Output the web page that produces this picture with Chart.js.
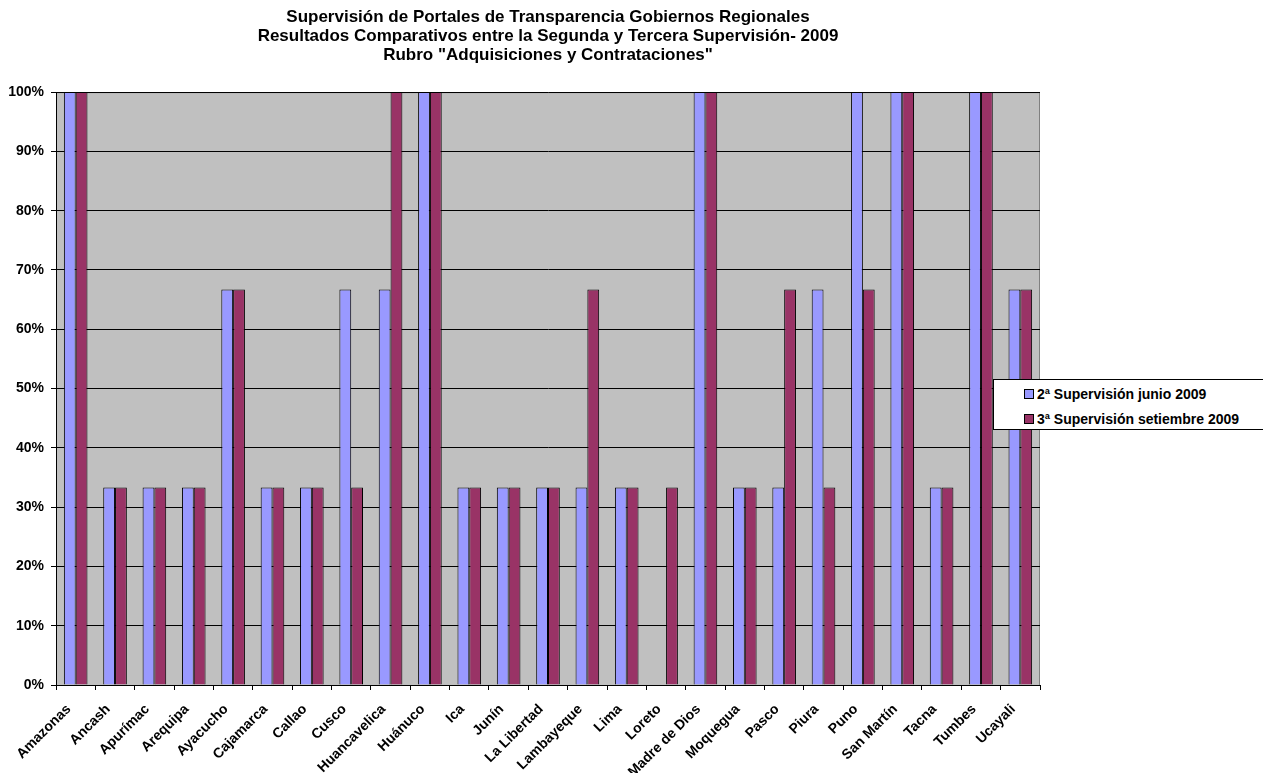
<!DOCTYPE html>
<html>
<head>
<meta charset="utf-8">
<script src="https://cdn.jsdelivr.net/npm/chart.js@4/dist/chart.umd.min.js"></script>
<style>
  html, body { margin: 0; padding: 0; background: #fff; overflow: hidden; }
  #wrap { position: relative; width: 1263px; height: 773px; }
  #legend {
    position: absolute; left: 993px; top: 379px; width: 280px; height: 51px;
    background: #fff; border: 1px solid #000; box-sizing: border-box;
    font: bold 14px "Liberation Sans", Arial, sans-serif; color: #000;
  }
  #legend .item { position: absolute; left: 30px; height: 16px; line-height: 16px; white-space: nowrap; }
  #legend .sw { display: inline-block; width: 8px; height: 8px; border: 1px solid #000; margin-right: 3px; vertical-align: 0px; }
</style>
</head>
<body>
<div id="wrap">
  <canvas id="chart" width="1263" height="773"></canvas>
  <div id="legend"></div>
</div>
<script>
// ====== DATA ======
const regions = ['Amazonas','Ancash','Apurímac','Arequipa','Ayacucho','Cajamarca','Callao','Cusco','Huancavelica','Huánuco','Ica','Junín','La Libertad','Lambayeque','Lima','Loreto','Madre de Dios','Moquegua','Pasco','Piura','Puno','San Martín','Tacna','Tumbes','Ucayali'];
const junio2009 = [100,33.3,33.3,33.3,66.7,33.3,33.3,66.7,66.7,100,33.3,33.3,33.3,33.3,33.3,0,100,33.3,33.3,66.7,100,100,33.3,100,66.7];
const setiembre2009 = [100,33.3,33.3,33.3,66.7,33.3,33.3,33.3,100,100,33.3,33.3,33.3,66.7,33.3,33.3,100,33.3,66.7,33.3,66.7,100,33.3,100,66.7];
const seriesNames = ['2ª Supervisión junio 2009','3ª Supervisión setiembre 2009'];
const seriesColors = ['#9999FF','#993366'];
const titleLines = [
  'Supervisión de Portales de Transparencia Gobiernos Regionales',
  'Resultados Comparativos entre la Segunda y Tercera Supervisión- 2009',
  'Rubro "Adquisiciones y Contrataciones"'
];

const FONT = '"Liberation Sans", Arial, sans-serif';

// grey plot background + frame
const plotBg = {
  id: 'plotBg',
  beforeDraw(chart) {
    const { ctx, chartArea: a } = chart;
    ctx.save();
    ctx.fillStyle = '#C0C0C0';
    ctx.fillRect(a.left, a.top, a.right - a.left, a.bottom - a.top);
    ctx.strokeStyle = '#808080';
    ctx.lineWidth = 1;
    ctx.strokeRect(a.left + 0.5, a.top + 0.5, a.right - a.left - 1, a.bottom - a.top);
    ctx.restore();
  }
};

new Chart(document.getElementById('chart'), {
  type: 'bar',
  data: {
    labels: regions,
    datasets: [
      { label: seriesNames[0], data: junio2009, backgroundColor: seriesColors[0], borderColor: '#000', borderWidth: 1 },
      { label: seriesNames[1], data: setiembre2009, backgroundColor: seriesColors[1], borderColor: '#000', borderWidth: 1 }
    ]
  },
  options: {
    responsive: false, animation: false,
    layout: { padding: { left: 0, right: 223, top: 0, bottom: 0 } },
    datasets: { bar: { barPercentage: 1.0, categoryPercentage: 0.6 } },
    plugins: {
      legend: { display: false },
      tooltip: { enabled: false },
      title: {
        display: true, text: titleLines, color: '#000', fullSize: false,
        font: { family: FONT, size: 17, weight: 'bold', lineHeight: 1.12 },
        padding: { top: 8, bottom: 27 }
      }
    },
    scales: {
      x: {
        grid: { offset: true, drawOnChartArea: false, color: '#000', tickLength: 5 },
        border: { color: '#000' },
        ticks: { color: '#000', font: { family: FONT, size: 14, weight: 'bold' }, maxRotation: 45, minRotation: 45, autoSkip: false, padding: 11, labelOffset: -7 },
        afterFit: s => { s.height = 88; }
      },
      y: {
        min: 0, max: 100,
        grid: { color: '#000', tickLength: 5 },
        border: { color: '#000' },
        ticks: { stepSize: 10, color: '#000', font: { family: FONT, size: 14, weight: 'bold' }, padding: 7, callback: v => v + '%' },
        afterFit: s => { s.width = 56; }
      }
    }
  },
  plugins: [plotBg]
});

// ====== LEGEND ======
const legend = document.getElementById('legend');
seriesNames.forEach((name, i) => {
  const it = document.createElement('div');
  it.className = 'item';
  it.style.top = (6 + i * 25) + 'px';
  it.innerHTML = '<span class="sw" style="background:' + seriesColors[i] + '"></span>' + name;
  legend.appendChild(it);
});
</script>
</body>
</html>
